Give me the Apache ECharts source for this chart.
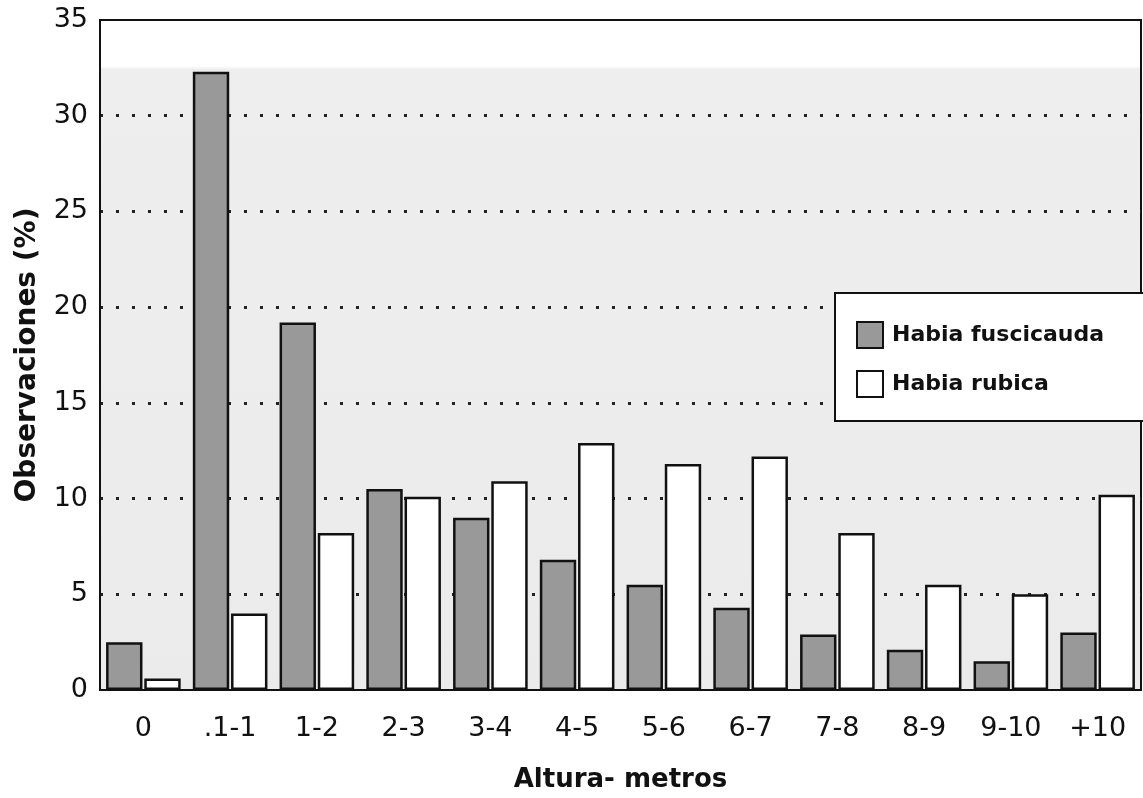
<!DOCTYPE html>
<html><head><meta charset="utf-8">
<script src="https://cdn.jsdelivr.net/npm/echarts@6/dist/echarts.min.js"></script>
<style>html,body{margin:0;padding:0;background:#fff}#c{width:1143px;height:798px}</style>
</head><body><div id="c"></div>
<script>
const categories = ['0', '.1-1', '1-2', '2-3', '3-4', '4-5', '5-6', '6-7', '7-8', '8-9', '9-10', '+10'];
const fuscicauda = [2.5, 32.3, 19.2, 10.5, 9.0, 6.8, 5.5, 4.3, 2.9, 2.1, 1.5, 3.0];
const rubica = [0.6, 4.0, 8.2, 10.1, 10.9, 12.9, 11.8, 12.2, 8.2, 5.5, 5.0, 10.2];
const seriesNames = ['Habia fuscicauda', 'Habia rubica'];
const yTicks = { min: 0, max: 35, interval: 5 };

const FONT = 'DejaVu Sans';
const chart = echarts.init(document.getElementById('c'), null, { renderer: 'canvas' });
chart.setOption({
  animation: false,
  backgroundColor: '#ffffff',
  grid: {
    left: 100, right: 2, top: 20, bottom: 102,
    show: true, borderColor: '#111', borderWidth: 2,
    backgroundColor: {
      type: 'linear', x: 0, y: 0, x2: 0, y2: 1,
      colorStops: [
        { offset: 0, color: '#ffffff' }, { offset: 0.07, color: '#ffffff' },
        { offset: 0.075, color: '#eeeeee' }, { offset: 1, color: '#ebebeb' }
      ]
    }
  },
  legend: {
    orient: 'vertical', left: 835, top: 293,
    icon: 'rect',
    itemWidth: 26, itemHeight: 26, itemGap: 21,
    padding: [28, 80, 23, 21],
    borderColor: '#111', borderWidth: 2, backgroundColor: '#ffffff',
    textStyle: { fontFamily: FONT, fontWeight: 'bold', fontSize: 22, color: '#111', padding: [0, 0, 0, 4] },
    data: seriesNames
  },
  xAxis: {
    type: 'category', data: categories,
    name: 'Altura- metros', nameLocation: 'middle', nameGap: 77,
    nameTextStyle: { fontFamily: FONT, fontWeight: 'bold', fontSize: 26, color: '#111' },
    axisLine: { lineStyle: { color: '#111', width: 2 } },
    axisTick: { show: false },
    axisLabel: { fontFamily: FONT, fontSize: 27, color: '#111', margin: 25 }
  },
  yAxis: {
    type: 'value', min: yTicks.min, max: yTicks.max, interval: yTicks.interval,
    name: 'Observaciones (%)', nameLocation: 'middle', nameGap: 58,
    nameTextStyle: { fontFamily: FONT, fontWeight: 'bold', fontSize: 28, color: '#111' },
    axisLine: { show: true, lineStyle: { color: '#111', width: 2 } },
    axisTick: { show: false },
    axisLabel: { fontFamily: FONT, fontSize: 27, color: '#111', margin: 12 },
    splitLine: { show: true, showMinLine: false, showMaxLine: false, lineStyle: { color: '#222', width: 3, type: [3, 13] } }
  },
  series: [
    {
      name: seriesNames[0], type: 'bar', data: fuscicauda,
      barGap: '5%', barCategoryGap: '14%',
      itemStyle: { color: '#999999', borderColor: '#111', borderWidth: 2.5 }
    },
    {
      name: seriesNames[1], type: 'bar', data: rubica,
      itemStyle: { color: '#ffffff', borderColor: '#111', borderWidth: 2.5 }
    }
  ]
});
</script></body></html>
